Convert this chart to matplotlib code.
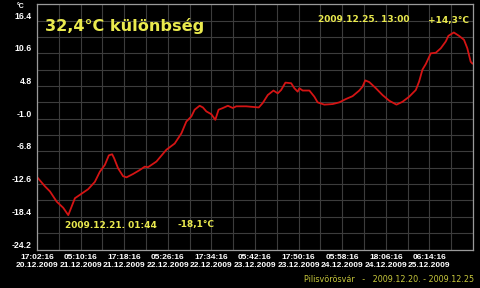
import matplotlib
matplotlib.use("Agg")
import matplotlib.pyplot as plt
from matplotlib.ticker import MultipleLocator

# hours since 2009.12.20 17:02:16 and temperature in °C
hours = [
    0.08, 2.22, 3.61, 5.47, 7.30, 8.70, 9.63, 10.55, 11.94, 14.24, 16.10, 17.49,
    18.88, 19.99, 20.91, 21.46, 22.57, 23.96, 24.91, 26.74, 28.60, 29.99, 30.90,
    33.23, 36.01, 38.32, 40.18, 41.56, 42.95, 43.87, 45.26, 46.17, 47.12, 48.51,
    49.62, 50.53, 51.73, 53.12, 54.50, 55.45, 58.22, 61.72, 62.83, 64.22, 65.80,
    67.00, 67.94, 69.13, 70.72, 71.63, 72.55, 73.02, 73.94, 75.80, 77.19, 78.10,
    79.96, 82.27, 84.13, 85.99, 87.82, 89.68, 90.60, 91.35, 92.46, 94.32, 96.15,
    98.01, 100.04, 101.70, 103.56, 105.42, 106.34, 107.26, 108.20, 109.59,
    110.98, 112.37, 113.75, 114.48, 116.00, 117.44, 118.83, 119.75, 120.69, 121.14,
]
temps = [
    -11.4, -13.0, -13.9, -15.7, -16.8, -18.1, -16.6, -15.1, -14.5, -13.5, -12.2, -10.4,
    -9.2, -7.5, -7.3, -8.0, -9.8, -11.2, -11.4, -10.8, -10.1, -9.5, -9.6,
    -8.6, -6.5, -5.4, -3.6, -1.5, -0.6, 0.6, 1.3, 1.0, 0.3, -0.2,
    -1.2, 0.6, 0.9, 1.3, 0.9, 1.2, 1.2, 1.0, 1.8, 3.2, 4.0,
    3.5, 4.1, 5.4, 5.3, 4.4, 3.8, 4.4, 4.0, 4.0, 2.9, 1.9,
    1.5, 1.6, 1.9, 2.5, 3.0, 4.0, 4.7, 5.8, 5.5, 4.4, 3.2,
    2.2, 1.5, 2.0, 2.9, 4.1, 5.6, 7.7, 8.7, 10.6,
    10.7, 11.5, 12.7, 13.7, 14.3, 13.7, 13.0, 11.5, 9.1, 8.8,
]

step = 12 + 8 / 60  # 12:08:00 between labelled ticks
x_labels = [
    "17:02:16\n20.12.2009", "05:10:16\n21.12.2009", "17:18:16\n21.12.2009",
    "05:26:16\n22.12.2009", "17:34:16\n22.12.2009", "05:42:16\n23.12.2009",
    "17:50:16\n23.12.2009", "05:58:16\n24.12.2009", "18:06:16\n24.12.2009",
    "06:14:16\n25.12.2009",
]
y_ticks = [-24.2, -18.4, -12.6, -6.8, -1.0, 4.8, 10.6, 16.4]

yellow = "#eaea4e"
small = "Liberation Sans"

fig = plt.figure(figsize=(4.8, 2.88), dpi=100, facecolor="black")
ax = fig.add_axes([37 / 480, 1 - 249.5 / 288, 436 / 480, 245.5 / 288])
ax.set_facecolor("black")

ax.plot(hours, temps, color="#d41414", lw=1.3)

ax.set_xlim(0, 10 * step)
ax.set_ylim(-24.2, 19.35)
ax.set_xticks([i * step for i in range(10)])
ax.set_xticklabels(x_labels)
ax.xaxis.set_minor_locator(MultipleLocator(step / 2))
ax.set_yticks(y_ticks)
ax.set_yticklabels([f"{v:.1f}" for v in y_ticks])
ax.set_yticks([v + 2.9 for v in y_ticks], minor=True)

ax.grid(True, which="both", color="#3c3c3c", lw=0.8)
ax.set_axisbelow(True)
for s in ax.spines.values():
    s.set_color("#9a9a9a")
    s.set_linewidth(0.9)

ax.tick_params(axis="both", which="both", length=0, colors="white")
ax.tick_params(axis="x", pad=3)
ax.tick_params(axis="y", pad=4)
for lab in ax.get_xticklabels():
    lab.set_fontsize(6.0)
for lab in ax.get_yticklabels():
    lab.set_fontsize(6.2)
    lab.set_verticalalignment("bottom")
for lab in ax.get_xticklabels() + ax.get_yticklabels():
    lab.set_fontfamily(small)
    lab.set_fontweight("bold")
    lab.set_linespacing(1.3)

fig.text(17 / 480, 1 - 7 / 288, "°C", color="white", fontsize=5,
         family=small, fontweight="bold", ha="left", va="center")

fig.text(45 / 480, 1 - 26.5 / 288, "32,4°C különbség", color=yellow,
         fontsize=11.6, fontweight="bold", ha="left", va="center")
fig.text(318 / 480, 1 - 20 / 288, "2009.12.25. 13:00", color=yellow,
         fontsize=6.5, fontweight="bold", ha="left", va="center")
fig.text(469 / 480, 1 - 20 / 288, "+14,3°C", color=yellow,
         fontsize=6.5, fontweight="bold", ha="right", va="center")
fig.text(65 / 480, 1 - 225 / 288, "2009.12.21. 01:44", color=yellow,
         fontsize=6.5, fontweight="bold", ha="left", va="center")
fig.text(177 / 480, 1 - 225 / 288, "-18,1°C", color=yellow,
         fontsize=6.5, fontweight="bold", ha="left", va="center")
fig.text(474 / 480, 1 - 279 / 288,
         "Pilisvörösvár   -   2009.12.20. - 2009.12.25", color="#c8c83c",
         fontsize=5.8, ha="right", va="center")

fig.savefig("out.png", dpi=100, facecolor="black")
